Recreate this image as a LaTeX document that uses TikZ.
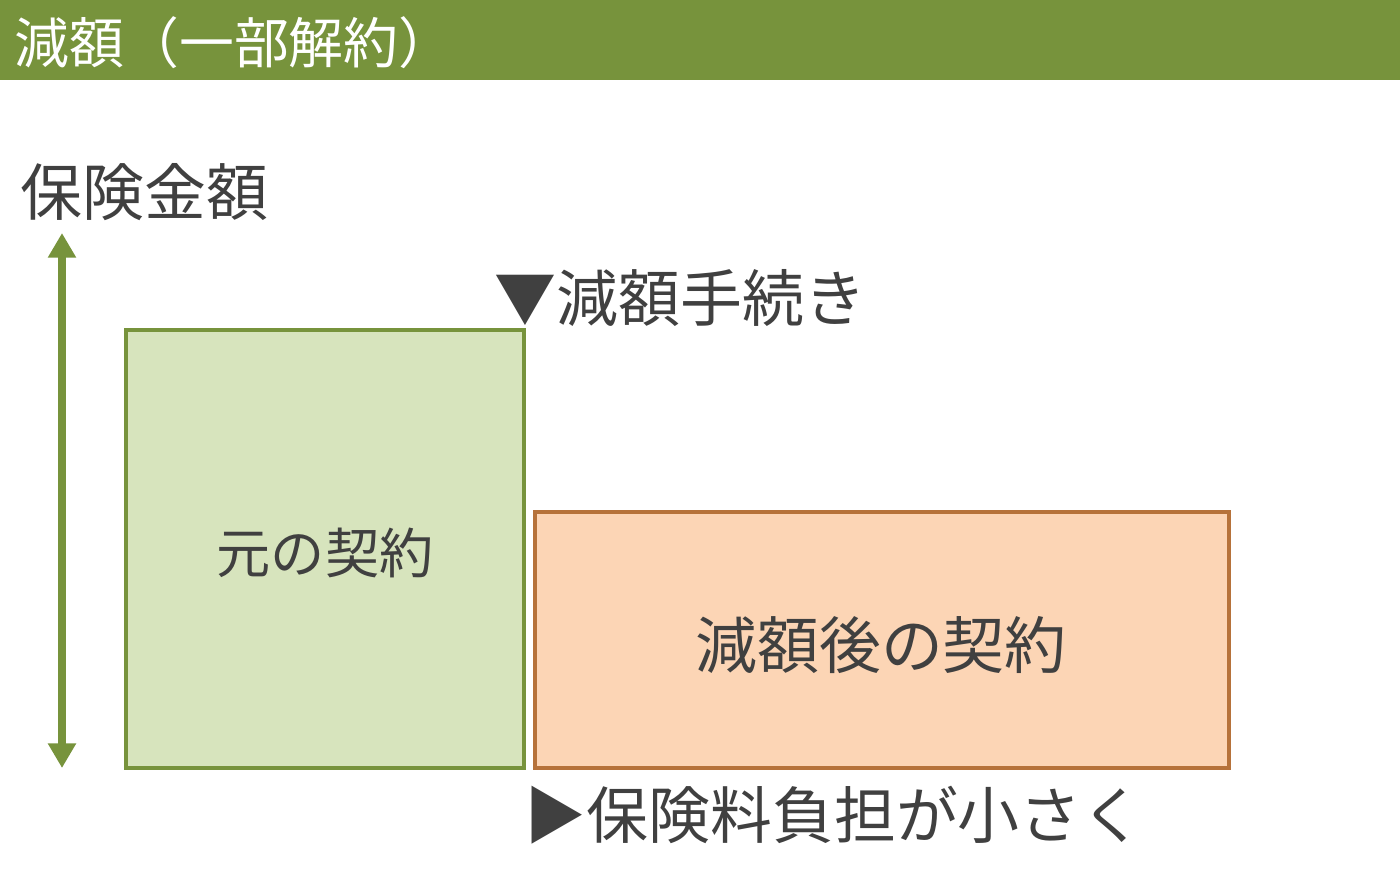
\documentclass[tikz,border=0pt]{standalone}
\usepackage{fontspec}
\newfontfamily\cjk{Noto Sans CJK JP}
\usetikzlibrary{positioning, arrows.meta}

\definecolor{olive}{HTML}{77933C}
\definecolor{oldfill}{HTML}{D7E4BD}
\definecolor{newfill}{HTML}{FCD5B5}
\definecolor{newdraw}{HTML}{B6723A}
\definecolor{ink}{HTML}{404040}

\begin{document}
\begin{tikzpicture}[x=0.01cm, y=-0.01cm,
    header/.style    = {fill=olive, draw=none},
    oldbox/.style    = {rectangle, draw=olive, fill=oldfill, line width=1.1pt,
                        inner sep=0pt},
    newbox/.style    = {rectangle, draw=newdraw, fill=newfill, line width=1.1pt,
                        inner sep=0pt},
    title/.style     = {font=\cjk\fontsize{15.6pt}{17pt}\selectfont, text=white,
                        anchor=west, inner sep=0pt},
    lbl/.style       = {font=\cjk\fontsize{17.6pt}{20pt}\selectfont, text=ink,
                        anchor=west, inner sep=0pt},
    boxlbl/.style    = {font=\cjk\fontsize{17.6pt}{20pt}\selectfont, text=ink,
                        inner sep=0pt},
    axis/.style      = {line width=2.4pt, draw=olive,
                        {Triangle[length=7pt, width=7.6pt]}-{Triangle[length=7pt, width=7.6pt]}},
]

\useasboundingbox (0,0) rectangle (1400,875);

%% ============================================================
%% HEADER
%% ============================================================
\fill[header] (0,0) rectangle (1400,80);
\node[title] (head) at (14,43) {減額（一部解約）};

%% ============================================================
%% BOXES
%% ============================================================
\draw[oldbox] (126,330) rectangle (524,768);
\draw[newbox] (535,512) rectangle (1229,768);
\node[boxlbl, font=\cjk\fontsize{15.4pt}{18pt}\selectfont] (oldlbl) at (325,553) {元の契約};
\node[boxlbl] (newlbl) at (881,645) {減額後の契約};

%% ============================================================
%% AXIS
%% ============================================================
\node[lbl] (amount) at (20,192) {保険金額};
\coordinate (axtop) at (62,233);
\coordinate (axbot) at (62,768);
\draw[axis] (axtop) -- (axbot);

%% ============================================================
%% ANNOTATIONS
%% ============================================================
\node[lbl] (proc) at (494,298) {▼減額手続き};
\node[lbl] (cost) at (524,815) {▶保険料負担が小さく};

\end{tikzpicture}
\end{document}
